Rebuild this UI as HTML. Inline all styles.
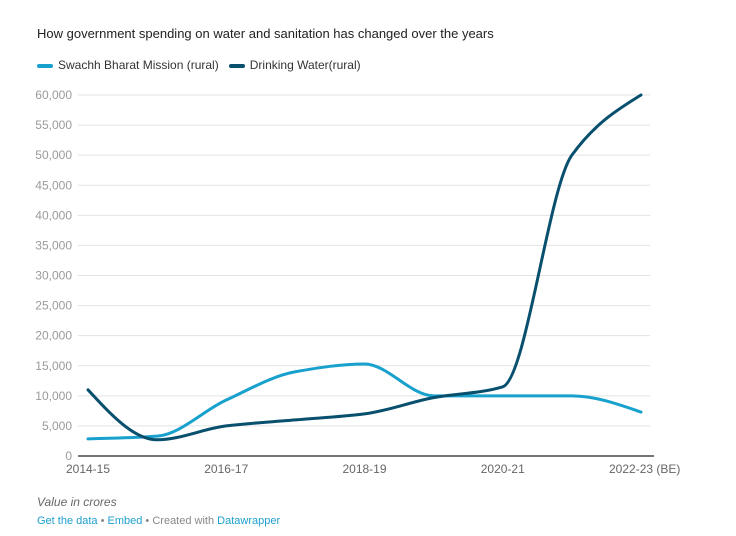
<!DOCTYPE html>
<html><head><meta charset="utf-8">
<style>
body{margin:0;background:#fff;font-family:"Liberation Sans",Arial,sans-serif;}
#wrap{position:relative;width:736px;height:536px;overflow:hidden;}
.title{position:absolute;left:37px;top:26px;font-size:13px;color:#222;}
.legend{position:absolute;left:37px;top:58px;font-size:12px;color:#333;display:flex;gap:10px;}
.legend span.sw{display:inline-block;width:16px;height:4px;border-radius:2px;vertical-align:middle;margin-right:5px;}
.note{position:absolute;left:37px;top:495px;font-size:12px;font-style:italic;color:#666;}
.foot{position:absolute;left:37px;top:515px;font-size:11px;color:#888;}
.foot a{color:#1d9fcf;text-decoration:none;}
</style></head><body>
<div id="wrap">
<div class="title">How government spending on water and sanitation has changed over the years</div>
<div class="legend">
<div><span class="sw" style="background:#18a1cd"></span>Swachh Bharat Mission (rural)</div>
<div><span class="sw" style="background:#09506f"></span>Drinking Water(rural)</div>
</div>
<svg id="chart" width="736" height="536" style="position:absolute;left:0;top:0"></svg>
<div class="note">Value in crores</div>
<div class="foot"><a href="#">Get the data</a> • <a href="#">Embed</a> • Created with <a href="#">Datawrapper</a></div>
</div>
<script>
const years=["2014-15","2015-16","2016-17","2017-18","2018-19","2019-20","2020-21","2021-22","2022-23"];
const xLabels=["2014-15","2016-17","2018-19","2020-21","2022-23 (BE)"];
const xLabelIdx=[0,2,4,6,8];
const swachh=[2850,3300,9300,14000,15300,10000,10000,10000,7300];
const drinking=[11000,2700,5000,6000,7000,9700,11500,50000,60000];
const yTicks=[0,5000,10000,15000,20000,25000,30000,35000,40000,45000,50000,55000,60000];
const svg=document.getElementById('chart');
const NS="http://www.w3.org/2000/svg";
const x0=88,x1=641,yBase=456,yTop=95,yMax=60000;
function X(i){return x0+(x1-x0)*i/(years.length-1);}
function Y(v){return yBase-(yBase-yTop)*v/yMax;}
function mk(t,a){const e=document.createElementNS(NS,t);for(const k in a)e.setAttribute(k,a[k]);svg.appendChild(e);return e;}
yTicks.forEach(v=>{
  if(v>0){const l=mk('line',{x1:78,x2:650,y1:Y(v),y2:Y(v),stroke:'#e3e3e3','stroke-width':1});
  
  }
  const t=mk('text',{x:72,y:Y(v)+4,'text-anchor':'end','font-size':12,fill:'#9a9a9a','font-family':'Liberation Sans, sans-serif'});
  t.textContent=v.toLocaleString('en-US');
  
  
});
const ax=mk('line',{x1:78,x2:654,y1:yBase,y2:yBase,stroke:'#222','stroke-width':1.2});


xLabels.forEach((s,k)=>{
  const i=xLabelIdx[k];
  const t=mk('text',{x:k==xLabels.length-1?X(i)-32:X(i),y:473,'text-anchor':k==xLabels.length-1?'start':'middle','font-size':12,fill:'#666','font-family':'Liberation Sans, sans-serif'});
  t.textContent=s;
  
  
});
function monotone(pts){
  const n=pts.length,d=[],m=[];
  for(let i=0;i<n-1;i++)d.push((pts[i+1][1]-pts[i][1])/(pts[i+1][0]-pts[i][0]));
  m[0]=d[0];m[n-1]=d[n-2];
  for(let i=1;i<n-1;i++){m[i]=(d[i-1]*d[i]<=0)?0:(2*d[i-1]*d[i]/(d[i-1]+d[i]));}
  m[0]=(3*d[0]-m[1])/2;m[n-1]=(3*d[n-2]-m[n-2])/2;
  let p="M"+pts[0][0]+","+pts[0][1];
  for(let i=0;i<n-1;i++){const h=(pts[i+1][0]-pts[i][0])/3;
    p+=" C"+(pts[i][0]+h)+","+(pts[i][1]+m[i]*h)+" "+(pts[i+1][0]-h)+","+(pts[i+1][1]-m[i+1]*h)+" "+pts[i+1][0]+","+pts[i+1][1];}
  return p;
}
const l1=mk('path',{d:monotone(swachh.map((v,i)=>[X(i),Y(v)])),fill:'none',stroke:'#18a1cd','stroke-width':3,'stroke-linecap':'round'});


const l2=mk('path',{d:monotone(drinking.map((v,i)=>[X(i),Y(v)])),fill:'none',stroke:'#09506f','stroke-width':3,'stroke-linecap':'round'});


</script>
</body></html>
